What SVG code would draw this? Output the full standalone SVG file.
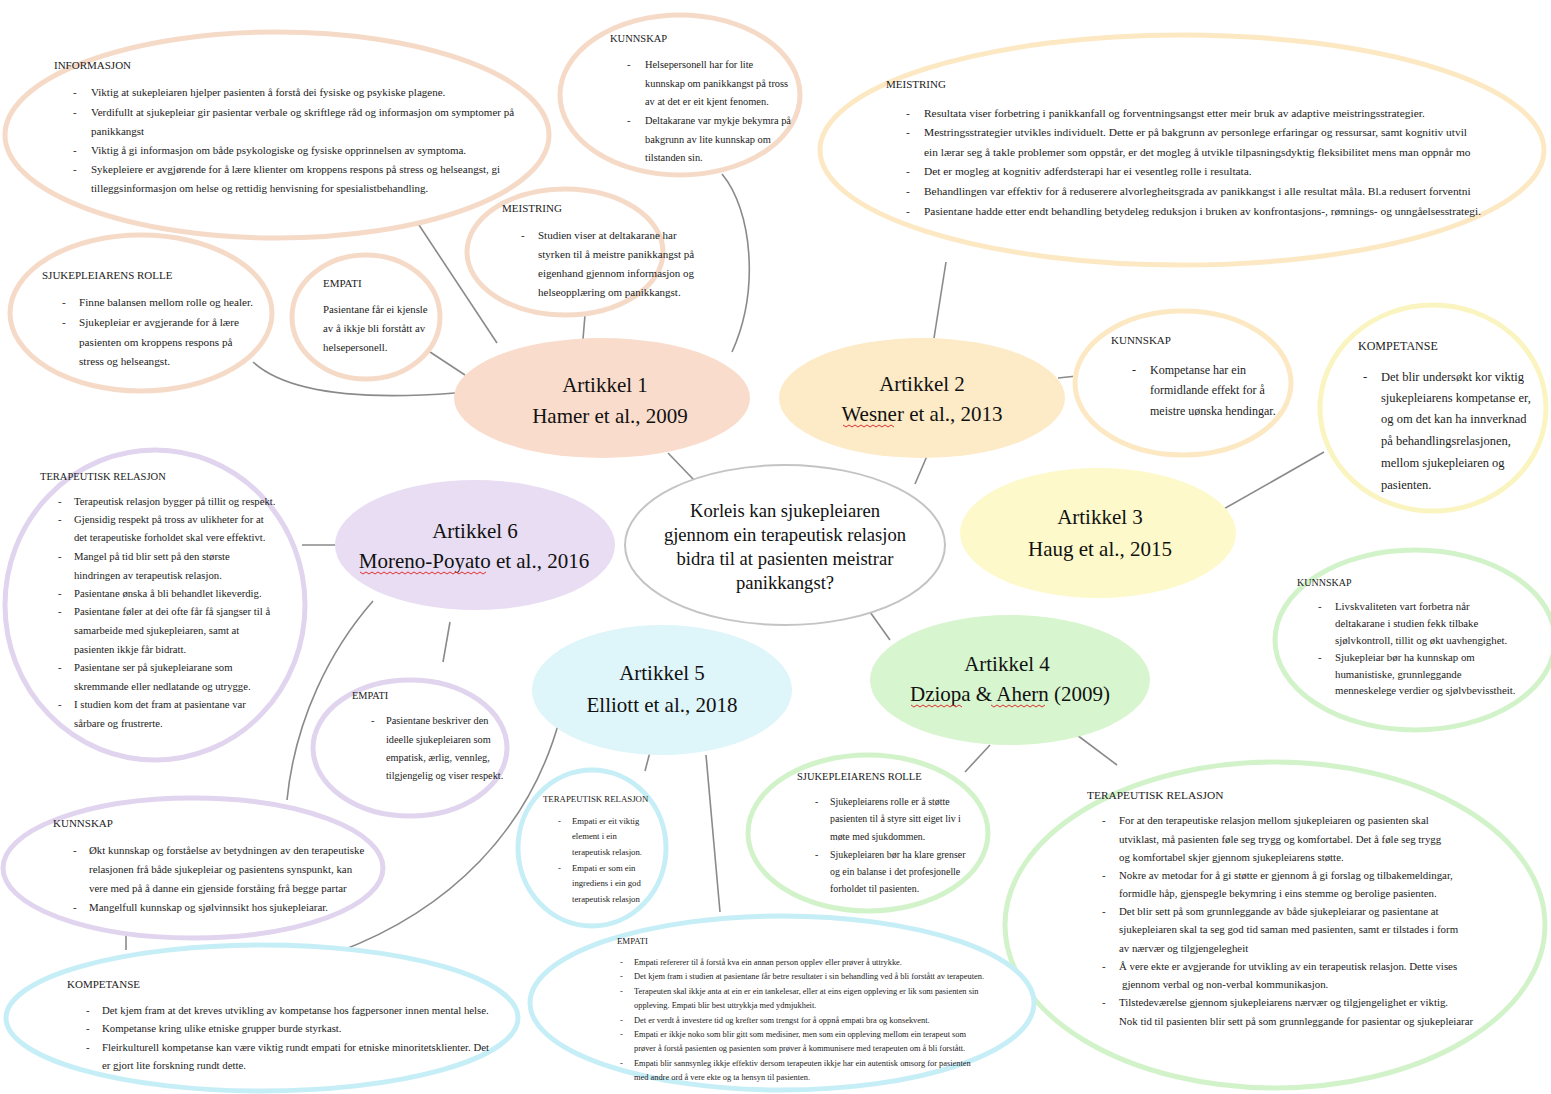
<svg xmlns="http://www.w3.org/2000/svg" width="1551" height="1094" viewBox="0 0 1551 1094">
<style>
text{font-family:"Liberation Serif","Times New Roman",serif;fill:#222}
.h{font-size:11px}
.b{font-size:11px}
.big{font-size:21px;fill:#111;text-anchor:middle}
.q{font-size:18.6px;fill:#111;text-anchor:middle}
.sub{fill:#fff;stroke-width:5}
.pe{stroke:#f6dac8}
.or{stroke:#fce9c4}
.ye{stroke:#faf4c0}
.gr{stroke:#d2f3ca}
.bl{stroke:#c6eef7}
.la{stroke:#e0d4ee}
.con path,.con line{stroke:#8a8a8a;stroke-width:1.6;fill:none}
.sq{stroke:#e03030;stroke-width:1;fill:none}
</style>
<rect width="1551" height="1094" fill="#fff"/>

<g id="connectors" class="con">
<line x1="417" y1="222" x2="497" y2="343"/>
<path d="M722,174 C752,210 760,290 732,352"/>
<line x1="585" y1="315" x2="583" y2="339"/>
<line x1="427" y1="350" x2="465" y2="375"/>
<path d="M253,362 Q300,405 455,393"/>
<line x1="668" y1="453" x2="694" y2="480"/>
<line x1="946" y1="262" x2="934" y2="338"/>
<line x1="1058" y1="378" x2="1077" y2="376"/>
<line x1="927" y1="456" x2="915" y2="484"/>
<line x1="1222" y1="510" x2="1324" y2="452"/>
<line x1="870" y1="612" x2="890" y2="640"/>
<line x1="990" y1="745" x2="965" y2="772"/>
<line x1="1077" y1="735" x2="1117" y2="765"/>
<line x1="650" y1="752" x2="645" y2="771"/>
<line x1="706" y1="755" x2="720" y2="912"/>
<path d="M560,718 C530,830 450,910 338,952"/>
<line x1="302" y1="545" x2="337" y2="545"/>
<line x1="450" y1="622" x2="443" y2="662"/>
<path d="M373,601 C330,650 295,720 287,800"/>
<line x1="126" y1="925" x2="126" y2="950"/>
</g>

<g id="q">
<ellipse cx="785" cy="545" rx="160" ry="80" fill="#fff" stroke="#c4c4c4" stroke-width="2"/>
<text class="q"><tspan x="785" y="517">Korleis kan sjukepleiaren</tspan><tspan x="785" y="541">gjennom ein terapeutisk relasjon</tspan><tspan x="785" y="565">bidra til at pasienten meistrar</tspan><tspan x="785" y="589">panikkangst?</tspan></text>
</g>

<g id="a1">
<ellipse cx="602" cy="398" rx="148" ry="60" fill="#f9dccb"/>
<text class="big"><tspan x="605" y="392">Artikkel 1</tspan><tspan x="610" y="423">Hamer et al., 2009</tspan></text>
</g>
<g id="a2">
<ellipse cx="922" cy="398" rx="143" ry="60" fill="#fdeac6"/>
<text class="big"><tspan x="922" y="391">Artikkel 2</tspan><tspan x="922" y="421">Wesner et al., 2013</tspan></text>
<path class="sq" d="M843,425 l3,2 l3,-2 l3,2 l3,-2 l3,2 l3,-2 l3,2 l3,-2 l3,2 l3,-2 l3,2 l3,-2 l3,2 l3,-2 l3,2 l3,-2 l3,2"/>
</g>
<g id="a3">
<ellipse cx="1098" cy="533" rx="138" ry="65" fill="#fdf9ca"/>
<text class="big"><tspan x="1100" y="524">Artikkel 3</tspan><tspan x="1100" y="556">Haug et al., 2015</tspan></text>
</g>
<g id="a4">
<ellipse cx="1010" cy="680" rx="140" ry="65" fill="#d7f5ce"/>
<text class="big"><tspan x="1007" y="671">Artikkel 4</tspan><tspan x="1010" y="701">Dziopa &amp; Ahern (2009)</tspan></text>
<path class="sq" d="M911,705 l3,2 l3,-2 l3,2 l3,-2 l3,2 l3,-2 l3,2 l3,-2 l3,2 l3,-2 l3,2 l3,-2 l3,2 l3,-2 l3,2 l3,-2 l3,2"/>
<path class="sq" d="M991,705 l3,2 l3,-2 l3,2 l3,-2 l3,2 l3,-2 l3,2 l3,-2 l3,2 l3,-2 l3,2 l3,-2 l3,2 l3,-2 l3,2 l3,-2 l3,2 l3,-2"/>
</g>
<g id="a5">
<ellipse cx="662" cy="690" rx="130" ry="65" fill="#def5fa"/>
<text class="big"><tspan x="662" y="680">Artikkel 5</tspan><tspan x="662" y="712">Elliott et al., 2018</tspan></text>
</g>
<g id="a6">
<ellipse cx="475" cy="545" rx="140" ry="65" fill="#e8ddf2"/>
<text class="big"><tspan x="475" y="538">Artikkel 6</tspan><tspan x="474" y="568">Moreno-Poyato et al., 2016</tspan></text>
<path class="sq" d="M360,572 l3,2 l3,-2 l3,2 l3,-2 l3,2 l3,-2 l3,2 l3,-2 l3,2 l3,-2 l3,2 l3,-2 l3,2 l3,-2 l3,2 l3,-2 l3,2 l3,-2 l3,2 l3,-2 l3,2 l3,-2 l3,2 l3,-2 l3,2 l3,-2 l3,2 l3,-2 l3,2 l3,-2 l3,2 l3,-2 l3,2 l3,-2 l3,2 l3,-2 l3,2 l3,-2 l3,2 l3,-2 l3,2 l3,-2"/>
</g>

<g id="informasjon">
<ellipse class="sub pe" cx="277" cy="135" rx="272" ry="103"/>
<text class="h" x="54" y="69">INFORMASJON</text>
<text class="b"><tspan x="73" y="96">-</tspan><tspan x="91" y="96">Viktig at sukepleiaren hjelper pasienten å forstå dei fysiske og psykiske plagene.</tspan><tspan x="73" y="116">-</tspan><tspan x="91" y="116">Verdifullt at sjukepleiar gir pasientar verbale og skriftlege råd og informasjon om symptomer på</tspan><tspan x="91" y="135">panikkangst</tspan><tspan x="73" y="154">-</tspan><tspan x="91" y="154">Viktig å gi informasjon om både psykologiske og fysiske opprinnelsen av symptoma.</tspan><tspan x="73" y="173">-</tspan><tspan x="91" y="173">Sykepleiere er avgjørende for å lære klienter om kroppens respons på stress og helseangst, gi</tspan><tspan x="91" y="192">tilleggsinformasjon om helse og rettidig henvisning for spesialistbehandling.</tspan></text>
</g>

<g id="kunnskap1">
<ellipse class="sub pe" cx="680" cy="95" rx="120" ry="80"/>
<text class="h" x="610" y="42" style="font-size:10.5px">KUNNSKAP</text>
<text class="b" style="font-size:10.4px"><tspan x="627" y="68">-</tspan><tspan x="645" y="68">Helsepersonell har for lite</tspan><tspan x="645" y="87">kunnskap om panikkangst på tross</tspan><tspan x="645" y="105">av at det er eit kjent fenomen.</tspan><tspan x="627" y="124">-</tspan><tspan x="645" y="124">Deltakarane var mykje bekymra på</tspan><tspan x="645" y="143">bakgrunn av lite kunnskap om</tspan><tspan x="645" y="161">tilstanden sin.</tspan></text>
</g>

<g id="meistring1">
<ellipse class="sub pe" cx="565" cy="252" rx="98" ry="63"/>
<text class="h" x="502" y="212">MEISTRING</text>
<text class="b"><tspan x="521" y="239">-</tspan><tspan x="538" y="239">Studien viser at deltakarane har</tspan><tspan x="538" y="258">styrken til å meistre panikkangst på</tspan><tspan x="538" y="277">eigenhand gjennom informasjon og</tspan><tspan x="538" y="296">helseopplæring om panikkangst.</tspan></text>
</g>

<g id="rolle1">
<ellipse class="sub pe" cx="141" cy="313" rx="131" ry="78"/>
<text class="h" x="42" y="279">SJUKEPLEIARENS ROLLE</text>
<text class="b" style="font-size:11.2px"><tspan x="62" y="306">-</tspan><tspan x="79" y="306">Finne balansen mellom rolle og healer.</tspan><tspan x="62" y="326">-</tspan><tspan x="79" y="326">Sjukepleiar er avgjerande for å lære</tspan><tspan x="79" y="346">pasienten om kroppens respons på</tspan><tspan x="79" y="365">stress og helseangst.</tspan></text>
</g>

<g id="empati1">
<ellipse class="sub pe" cx="366" cy="317" rx="74" ry="62"/>
<text class="h" x="323" y="287">EMPATI</text>
<text class="b" style="font-size:10.8px"><tspan x="323" y="313">Pasientane får ei kjensle</tspan><tspan x="323" y="332">av å ikkje bli forstått av</tspan><tspan x="323" y="351">helsepersonell.</tspan></text>
</g>

<g id="meistring2">
<ellipse class="sub or" cx="1182" cy="150" rx="362" ry="115"/>
<text class="h" x="886" y="88">MEISTRING</text>
<text class="b" style="font-size:11.4px"><tspan x="906" y="117">-</tspan><tspan x="924" y="117">Resultata viser forbetring i panikkanfall og forventningsangst etter meir bruk av adaptive meistringsstrategier.</tspan><tspan x="906" y="136">-</tspan><tspan x="924" y="136">Mestringsstrategier utvikles individuelt. Dette er på bakgrunn av personlege erfaringar og ressursar, samt kognitiv utvil</tspan><tspan x="924" y="156">ein lærar seg å takle problemer som oppstår, er det mogleg å utvikle tilpasningsdyktig fleksibilitet mens man oppnår mo</tspan><tspan x="906" y="175">-</tspan><tspan x="924" y="175">Det er mogleg at kognitiv adferdsterapi har ei vesentleg rolle i resultata.</tspan><tspan x="906" y="195">-</tspan><tspan x="924" y="195">Behandlingen var effektiv for å reduserere alvorlegheitsgrada av panikkangst i alle resultat måla. Bl.a redusert forventni</tspan><tspan x="906" y="215">-</tspan><tspan x="924" y="215">Pasientane hadde etter endt behandling betydeleg reduksjon i bruken av konfrontasjons-, rømnings- og unngåelsesstrategi.</tspan></text>
</g>

<g id="kunnskap2">
<ellipse class="sub or" cx="1183" cy="383" rx="108" ry="72"/>
<text class="h" x="1111" y="344">KUNNSKAP</text>
<text class="b" style="font-size:12px"><tspan x="1132" y="374">-</tspan><tspan x="1150" y="374">Kompetanse har ein</tspan><tspan x="1150" y="394">formidlande effekt for å</tspan><tspan x="1150" y="415">meistre uønska hendingar.</tspan></text>
</g>

<g id="kompetanse3">
<ellipse class="sub ye" cx="1433" cy="408" rx="113" ry="103"/>
<text class="h" x="1358" y="350" style="font-size:12px">KOMPETANSE</text>
<text class="b" style="font-size:12.5px"><tspan x="1363" y="381">-</tspan><tspan x="1381" y="381">Det blir undersøkt kor viktig</tspan><tspan x="1381" y="402">sjukepleiarens kompetanse er,</tspan><tspan x="1381" y="423">og om det kan ha innverknad</tspan><tspan x="1381" y="445">på behandlingsrelasjonen,</tspan><tspan x="1381" y="467">mellom sjukepleiaren og</tspan><tspan x="1381" y="489">pasienten.</tspan></text>
</g>

<g id="kunnskap4">
<ellipse class="sub gr" cx="1415" cy="640" rx="140" ry="90"/>
<text class="h" x="1297" y="586" style="font-size:10px">KUNNSKAP</text>
<text class="b" style="font-size:10.8px"><tspan x="1318" y="610">-</tspan><tspan x="1335" y="610">Livskvaliteten vart forbetra når</tspan><tspan x="1335" y="627">deltakarane i studien fekk tilbake</tspan><tspan x="1335" y="644">sjølvkontroll, tillit og økt uavhengighet.</tspan><tspan x="1318" y="661">-</tspan><tspan x="1335" y="661">Sjukepleiar bør ha kunnskap om</tspan><tspan x="1335" y="678">humanistiske, grunnleggande</tspan><tspan x="1335" y="694">menneskelege verdier og sjølvbevisstheit.</tspan></text>
</g>

<g id="rolle4">
<ellipse class="sub gr" cx="868" cy="833" rx="120" ry="78"/>
<text class="h" x="797" y="780" style="font-size:10.5px">SJUKEPLEIARENS ROLLE</text>
<text class="b" style="font-size:9.9px"><tspan x="815" y="805">-</tspan><tspan x="830" y="805">Sjukepleiarens rolle er å støtte</tspan><tspan x="830" y="822">pasienten til å styre sitt eiget liv i</tspan><tspan x="830" y="840">møte med sjukdommen.</tspan><tspan x="815" y="858">-</tspan><tspan x="830" y="858">Sjukepleiaren bør ha klare grenser</tspan><tspan x="830" y="875">og ein balanse i det profesjonelle</tspan><tspan x="830" y="892">forholdet til pasienten.</tspan></text>
</g>

<g id="terapeutisk4">
<ellipse class="sub gr" cx="1275" cy="925" rx="270" ry="163"/>
<text class="h" x="1087" y="799" style="font-size:11.4px">TERAPEUTISK RELASJON</text>
<text class="b" style="font-size:10.85px"><tspan x="1102" y="824">-</tspan><tspan x="1119" y="824">For at den terapeutiske relasjon mellom sjukepleiaren og pasienten skal</tspan><tspan x="1119" y="843">utviklast, må pasienten føle seg trygg og komfortabel. Det å føle seg trygg</tspan><tspan x="1119" y="861">og komfortabel skjer gjennom sjukepleiarens støtte.</tspan><tspan x="1102" y="879">-</tspan><tspan x="1119" y="879">Nokre av metodar for å gi støtte er gjennom å gi forslag og tilbakemeldingar,</tspan><tspan x="1119" y="897">formidle håp, gjenspegle bekymring i eins stemme og berolige pasienten.</tspan><tspan x="1102" y="915">-</tspan><tspan x="1119" y="915">Det blir sett på som grunnleggande av både sjukepleiarar og pasientane at</tspan><tspan x="1119" y="933">sjukepleiaren skal ta seg god tid saman med pasienten, samt er tilstades i form</tspan><tspan x="1119" y="952">av nærvær og tilgjengelegheit</tspan><tspan x="1102" y="970">-</tspan><tspan x="1119" y="970">Å vere ekte er avgjerande for utvikling av ein terapeutisk relasjon. Dette vises</tspan><tspan x="1122" y="988">gjennom verbal og non-verbal kommunikasjon.</tspan><tspan x="1102" y="1006">-</tspan><tspan x="1119" y="1006">Tilstedeværelse gjennom sjukepleiarens nærvær og tilgjengelighet er viktig.</tspan><tspan x="1119" y="1025">Nok tid til pasienten blir sett på som grunnleggande for pasientar og sjukepleiarar</tspan></text>
</g>

<g id="terapeutisk5">
<ellipse class="sub bl" cx="592" cy="848" rx="74" ry="78"/>
<text class="h" x="543" y="802" style="font-size:8.8px">TERAPEUTISK RELASJON</text>
<text class="b" style="font-size:8.7px"><tspan x="558" y="824">-</tspan><tspan x="572" y="824">Empati er eit viktig</tspan><tspan x="572" y="839">element i ein</tspan><tspan x="572" y="855">terapeutisk relasjon.</tspan><tspan x="558" y="871">-</tspan><tspan x="572" y="871">Empati er som ein</tspan><tspan x="572" y="886">ingrediens i ein god</tspan><tspan x="572" y="902">terapeutisk relasjon</tspan></text>
</g>

<g id="empati5">
<ellipse class="sub bl" cx="782" cy="1003" rx="252" ry="87"/>
<text class="h" x="617" y="944" style="font-size:8.8px">EMPATI</text>
<text class="b" style="font-size:8.4px"><tspan x="620" y="965">-</tspan><tspan x="634" y="965">Empati refererer til å forstå kva ein annan person opplev eller prøver å uttrykke.</tspan><tspan x="620" y="979">-</tspan><tspan x="634" y="979">Det kjem fram i studien at pasientane får betre resultater i sin behandling ved å bli forstått av terapeuten.</tspan><tspan x="620" y="994">-</tspan><tspan x="634" y="994">Terapeuten skal ikkje anta at ein er ein tankelesar, eller at eins eigen oppleving er lik som pasienten sin</tspan><tspan x="634" y="1008">oppleving. Empati blir best uttrykkja med ydmjukheit.</tspan><tspan x="620" y="1023">-</tspan><tspan x="634" y="1023">Det er verdt å investere tid og krefter som trengst for å oppnå empati bra og konsekvent.</tspan><tspan x="620" y="1037">-</tspan><tspan x="634" y="1037">Empati er ikkje noko som blir gitt som medisiner, men som ein oppleving mellom ein terapeut som</tspan><tspan x="634" y="1051">prøver å forstå pasienten og pasienten som prøver å kommunisere med terapeuten om å bli forstått.</tspan><tspan x="620" y="1066">-</tspan><tspan x="634" y="1066">Empati blir sannsynleg ikkje effektiv dersom terapeuten ikkje har ein autentisk omsorg for pasienten</tspan><tspan x="634" y="1080">med andre ord å vere ekte og ta hensyn til pasienten.</tspan></text>
</g>

<g id="kompetanse5">
<ellipse class="sub bl" cx="262" cy="1018" rx="256" ry="73"/>
<text class="h" x="67" y="988">KOMPETANSE</text>
<text class="b" style="font-size:10.8px"><tspan x="86" y="1014">-</tspan><tspan x="102" y="1014">Det kjem fram at det kreves utvikling av kompetanse hos fagpersoner innen mental helse.</tspan><tspan x="86" y="1032">-</tspan><tspan x="102" y="1032">Kompetanse kring ulike etniske grupper burde styrkast.</tspan><tspan x="86" y="1051">-</tspan><tspan x="102" y="1051">Fleirkulturell kompetanse kan være viktig rundt empati for etniske minoritetsklienter. Det</tspan><tspan x="102" y="1069">er gjort lite forskning rundt dette.</tspan></text>
</g>

<g id="terapeutisk6">
<ellipse class="sub la" cx="155" cy="605" rx="150" ry="155"/>
<text class="h" x="40" y="480" style="font-size:10.5px">TERAPEUTISK RELASJON</text>
<text class="b" style="font-size:10.7px"><tspan x="58" y="505">-</tspan><tspan x="74" y="505">Terapeutisk relasjon bygger på tillit og respekt.</tspan><tspan x="58" y="523">-</tspan><tspan x="74" y="523">Gjensidig respekt på tross av ulikheter for at</tspan><tspan x="74" y="541">det terapeutiske forholdet skal vere effektivt.</tspan><tspan x="58" y="560">-</tspan><tspan x="74" y="560">Mangel på tid blir sett på den største</tspan><tspan x="74" y="579">hindringen av terapeutisk relasjon.</tspan><tspan x="58" y="597">-</tspan><tspan x="74" y="597">Pasientane ønska å bli behandlet likeverdig.</tspan><tspan x="58" y="615">-</tspan><tspan x="74" y="615">Pasientane føler at dei ofte får få sjangser til å</tspan><tspan x="74" y="634">samarbeide med sjukepleiaren, samt at</tspan><tspan x="74" y="653">pasienten ikkje får bidratt.</tspan><tspan x="58" y="671">-</tspan><tspan x="74" y="671">Pasientane ser på sjukepleiarane som</tspan><tspan x="74" y="690">skremmande eller nedlatande og utrygge.</tspan><tspan x="58" y="708">-</tspan><tspan x="74" y="708">I studien kom det fram at pasientane var</tspan><tspan x="74" y="727">sårbare og frustrerte.</tspan></text>
</g>

<g id="empati6">
<ellipse class="sub la" cx="410" cy="748" rx="97" ry="68"/>
<text class="h" x="352" y="699" style="font-size:10.3px">EMPATI</text>
<text class="b" style="font-size:10.3px"><tspan x="371" y="724">-</tspan><tspan x="386" y="724">Pasientane beskriver den</tspan><tspan x="386" y="743">ideelle sjukepleiaren som</tspan><tspan x="386" y="761">empatisk, ærlig, vennleg,</tspan><tspan x="386" y="779">tilgjengelig og viser respekt.</tspan></text>
</g>

<g id="kunnskap6">
<ellipse class="sub la" cx="193" cy="868" rx="190" ry="70"/>
<text class="h" x="53" y="827">KUNNSKAP</text>
<text class="b" style="font-size:10.9px"><tspan x="73" y="854">-</tspan><tspan x="89" y="854">Økt kunnskap og forståelse av betydningen av den terapeutiske</tspan><tspan x="89" y="873">relasjonen frå både sjukepleiar og pasientens synspunkt, kan</tspan><tspan x="89" y="892">vere med på å danne ein gjenside forståing frå begge partar</tspan><tspan x="73" y="911">-</tspan><tspan x="89" y="911">Mangelfull kunnskap og sjølvinnsikt hos sjukepleiarar.</tspan></text>
</g>
</svg>
